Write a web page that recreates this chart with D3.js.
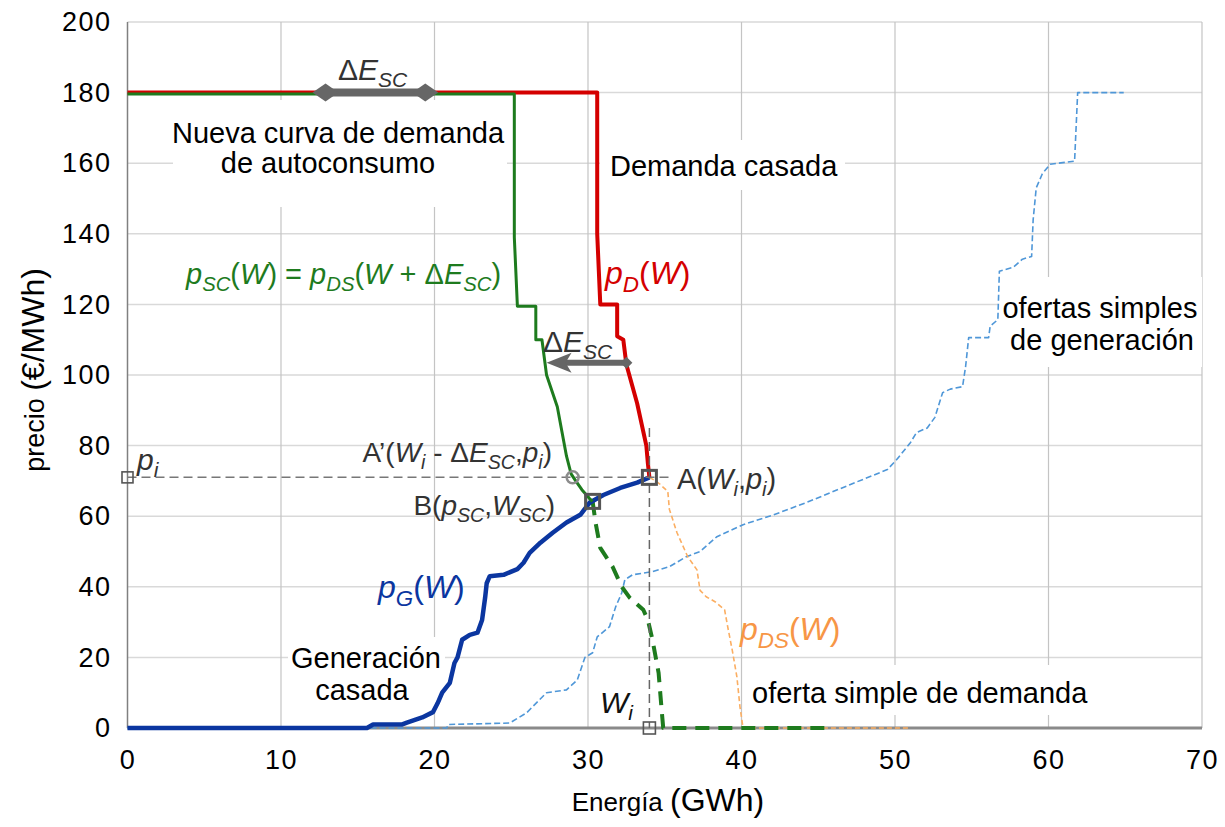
<!DOCTYPE html>
<html>
<head>
<meta charset="utf-8">
<script src="https://cdn.jsdelivr.net/npm/d3@7/dist/d3.min.js"></script>
<style>
html,body{margin:0;background:#fff}
svg{display:block;font-family:"Liberation Sans",Arial,sans-serif}
</style>
</head>
<body>
<svg id="chart" width="1225" height="827"></svg>
<script>
const xTicks=[0,10,20,30,40,50,60,70];
const yTicks=[0,20,40,60,80,100,120,140,160,180,200];

// [W (GWh), precio (€/MWh)]
const demandMatched=[[0,180],[30.6,180],[30.6,140],[30.8,120],[31.9,120],[31.9,111],[32.3,110],[32.5,103],[33.2,92],[33.6,84],[33.8,80],[33.9,75],[34.0,71]];
const selfDemand=[[0,179.6],[25.2,179.6],[25.2,139],[25.4,119.5],[26.6,119.5],[26.6,110],[27.0,110],[27.3,100],[28.0,91],[28.3,84],[28.6,77],[28.9,72],[29.2,70],[29.6,67.5],[30.1,65],[30.3,64.2]];
const selfDemandLow=[[30.3,64.2],[30.5,58],[30.8,51],[31.6,45.7],[32.2,40],[32.7,37],[33.6,33.5],[33.9,30.6],[34.2,25],[34.6,15.6],[34.8,5],[34.9,0],[45.8,0]];
const genMatched=[[0,0],[15.6,0],[16.0,1],[17.9,1],[18.2,1.5],[19.2,3],[19.9,4.5],[20.2,7],[20.5,10],[21.0,12.8],[21.3,18.4],[21.5,20],[21.8,25],[22.3,26.4],[22.8,27],[23.1,30.6],[23.3,37],[23.4,41],[23.6,43],[24.5,43.4],[25.4,45],[25.8,46.8],[26.2,49.6],[26.9,52.5],[27.7,55.3],[28.6,58.2],[29.5,60.4],[30.1,63.8],[31.0,66],[32.1,68],[33.2,69.5],[34.0,71]];
const genOffers=[[0,0],[20.8,0],[20.9,1],[24.9,1.4],[26.0,4.3],[27.3,10],[28.6,10.8],[29.3,13.6],[29.8,20],[30.3,21.3],[30.6,25.8],[31.4,28.7],[31.8,34.3],[32.2,38.3],[32.4,42],[32.9,43.4],[34.2,44.3],[35.3,45.7],[36.4,48.5],[37.3,50],[38.4,54.2],[40.1,57.6],[42.1,60.4],[44.3,64],[47.1,69],[49.5,73.2],[50.1,76],[51.0,80.8],[51.4,83.7],[52.1,85],[52.6,88],[53.1,95],[53.6,96],[54.4,96.7],[54.6,102.4],[54.8,110.6],[56.1,110.6],[56.2,113.8],[56.7,115.7],[56.8,129.4],[57.7,130.5],[58.3,132.8],[58.9,133.6],[59.0,144],[59.2,153],[59.6,157],[60.1,159.7],[61.7,160.6],[61.9,180],[64.9,180]];
const demandOffers=[[34.0,71],[34.4,70],[34.7,69],[35.2,67],[35.3,62],[35.8,55.3],[36.5,48.5],[37.1,44.8],[37.3,39],[37.7,37.2],[38.3,35.7],[38.9,33.5],[39.1,28.7],[39.4,22],[39.7,14.5],[39.9,6],[40.1,0],[51.0,0]];

const Wi=34.0, pi=71, WiShift=29.0, pointB=[30.3,64.2];
const deltaTop=[12.9,19.4,180], deltaMid=[32.5,27.3,103.5];

const svg=d3.select("#chart");
const x=d3.scaleLinear().domain([0,70]).range([127.5,1202]);
const y=d3.scaleLinear().domain([0,200]).range([728,22]);

// gridlines
svg.append("g").selectAll("line").data(yTicks.slice(1)).join("line")
  .attr("x1",x(0)).attr("x2",x(70)).attr("y1",d=>y(d)).attr("y2",d=>y(d))
  .attr("stroke","#d9d9d9").attr("stroke-width",1.5);
svg.append("g").selectAll("line").data(xTicks.slice(1)).join("line")
  .attr("x1",d=>x(d)).attr("x2",d=>x(d)).attr("y1",y(0)).attr("y2",y(200))
  .attr("stroke","#c4c4c4").attr("stroke-width",1.2);

// white label boxes that cut the grid
[[173,100,334,107],[600,140,245,50],[998,277,204,90],[288,637,157,75],[745,665,347,50]]
  .forEach(([bx,by,bw,bh])=>svg.append("rect").attr("x",bx).attr("y",by).attr("width",bw).attr("height",bh).attr("fill","#fff"));

// axes
svg.append("line").attr("x1",x(0)).attr("x2",x(0)).attr("y1",y(0)).attr("y2",y(200))
  .attr("stroke","#808080").attr("stroke-width",1.5);
svg.append("line").attr("x1",x(0)).attr("x2",x(70)).attr("y1",y(0)).attr("y2",y(0))
  .attr("stroke","#8a8a8a").attr("stroke-width",3);

const ya=svg.append("g").attr("transform",`translate(${x(0)},0)`)
  .call(d3.axisLeft(y).tickValues(yTicks).tickSize(0).tickPadding(16));
const xa=svg.append("g").attr("transform",`translate(0,${y(0)})`)
  .call(d3.axisBottom(x).tickValues(xTicks).tickSize(0).tickPadding(22));
[ya,xa].forEach(a=>{
  a.select(".domain").remove();
  a.selectAll("text").attr("font-size",27).attr("letter-spacing",1.5).attr("fill","#000")
    .attr("font-family","Liberation Sans, Arial, sans-serif");
});

const line=d3.line().x(d=>x(d[0])).y(d=>y(d[1]));
const path=(data,color,w,dash)=>svg.append("path").datum(data).attr("d",line)
  .attr("fill","none").attr("stroke",color).attr("stroke-width",w)
  .attr("stroke-linejoin","round").attr("stroke-dasharray",dash||null);

path(genOffers,"#4f97d8",1.6,"6,3");
path(demandOffers,"#fbae62",1.6,"5,3");
path(selfDemandLow,"#1e7b1e",4,"14,9");
path(genMatched,"#0b36a0",4.5);
path(demandMatched,"#d40000",4);
path(selfDemand,"#1e7b1e",3);

// guides through A
svg.append("line").attr("x1",x(0)).attr("x2",x(35.3)).attr("y1",y(pi)).attr("y2",y(pi))
  .attr("stroke","#777").attr("stroke-width",1.5).attr("stroke-dasharray","9,5");
svg.append("line").attr("x1",x(Wi)).attr("x2",x(Wi)).attr("y1",y(85)).attr("y2",y(0))
  .attr("stroke","#666").attr("stroke-width",1.5).attr("stroke-dasharray","9,5");

// markers
const square=(w,p,s,sw)=>svg.append("rect")
  .attr("x",x(w)-s/2).attr("y",y(p)-s/2).attr("width",s).attr("height",s)
  .attr("fill","none").attr("stroke","#555").attr("stroke-width",sw);
square(0,pi,11,1.6);
square(Wi,0,12,1.6);
square(Wi,pi,14,3);
square(pointB[0],pointB[1],14,3);
svg.append("circle").attr("cx",x(WiShift)).attr("cy",y(pi)).attr("r",6)
  .attr("fill","none").attr("stroke","#8c8c8c").attr("stroke-width",2.5);

// ΔE_SC arrows
const diamond=(cx,cy,hw,hh)=>svg.append("path")
  .attr("d",`M${cx-hw},${cy}L${cx},${cy-hh}L${cx+hw},${cy}L${cx},${cy+hh}Z`).attr("fill","#666");
svg.append("line").attr("x1",x(deltaTop[0])).attr("x2",x(deltaTop[1]))
  .attr("y1",y(deltaTop[2])).attr("y2",y(deltaTop[2])).attr("stroke","#666").attr("stroke-width",8);
diamond(x(deltaTop[0]),y(deltaTop[2]),13,9);
diamond(x(deltaTop[1]),y(deltaTop[2]),13,9);
const mx0=x(deltaMid[0]), mx1=x(deltaMid[1]), my=y(deltaMid[2]);
svg.append("line").attr("x1",mx0).attr("x2",mx1+14).attr("y1",my).attr("y2",my)
  .attr("stroke","#666").attr("stroke-width",6);
svg.append("path").attr("d",`M${mx1},${my}L${mx1+25},${my-10}L${mx1+19},${my}L${mx1+25},${my+10}Z`).attr("fill","#666");
diamond(mx0,my,6,6);

// rich text helper: parts [text, flags] with i=italic, s=subscript
function rich(tx,ty,parts,{size=30,fill="#333",anchor="start"}={}){
  const t=svg.append("text").attr("x",tx).attr("y",ty).attr("font-size",size)
    .attr("fill",fill).attr("text-anchor",anchor);
  let shift=0;
  parts.forEach(([str,f=""])=>{
    const sub=f.includes("s"), want=sub?Math.round(size*0.24):0;
    const ts=t.append("tspan").attr("dy",want-shift).text(str);
    if(sub) ts.attr("font-size",size*0.7);
    if(f.includes("i")) ts.attr("font-style","italic");
    shift=want;
  });
  return t;
}
const plain=(tx,ty,str,anchor="start")=>svg.append("text").attr("x",tx).attr("y",ty)
  .attr("font-size",29).attr("fill","#000").attr("text-anchor",anchor).text(str);

rich(338,80,[["Δ"],["E","i"],["SC","is"]]);
plain(338,143,"Nueva curva de demanda","middle");
plain(328,173,"de autoconsumo","middle");
plain(610,176,"Demanda casada");
rich(186,284,[["p","i"],["SC","is"],["("],["W","i"],[") = "],["p","i"],["DS","is"],["("],["W","i"],[" + Δ"],["E","i"],["SC","is"],[")"]],{fill:"#1e7b1e",size:29});
rich(605,284,[["p","i"],["D","is"],["("],["W","i"],[")"]],{fill:"#d40000",size:32});
rich(543,352,[["Δ"],["E","i"],["SC","is"]]);
plain(1100,318,"ofertas simples","middle");
plain(1102,350,"de generación","middle");
rich(552,462,[["A’("],["W","i"],["i","is"],[" - Δ"],["E","i"],["SC","is"],[","],["p","i"],["i","is"],[")"]],{anchor:"end",size:28});
rich(677,489,[["A("],["W","i"],["i","is"],[","],["p","i"],["i","is"],[")"]],{size:29});
rich(555,515,[["B("],["p","i"],["SC","is"],[","],["W","i"],["SC","is"],[")"]],{anchor:"end",size:28});
rich(137,470,[["p","i"],["i","is"]],{size:30});
rich(378,598,[["p","i"],["G","is"],["("],["W","i"],[")"]],{fill:"#0b36a0",size:32});
plain(366,668,"Generación","middle");
plain(362,700,"casada","middle");
rich(600,713,[["W","i"],["i","is"]],{size:30,fill:"#111"});
rich(740,640,[["p","i"],["DS","is"],["("],["W","i"],[")"]],{fill:"#f79646",size:32});
plain(752,703,"oferta simple de demanda");

// axis titles
const yl=svg.append("text").attr("transform","translate(44,370) rotate(-90)")
  .attr("text-anchor","middle").attr("fill","#000");
yl.append("tspan").attr("font-size",27).text("precio ");
yl.append("tspan").attr("font-size",32).text("(€/MWh)");
const xl=svg.append("text").attr("x",668).attr("y",811).attr("text-anchor","middle").attr("fill","#000");
xl.append("tspan").attr("font-size",26).text("Energía  ");
xl.append("tspan").attr("font-size",32).text("(GWh)");
</script>
</body>
</html>
